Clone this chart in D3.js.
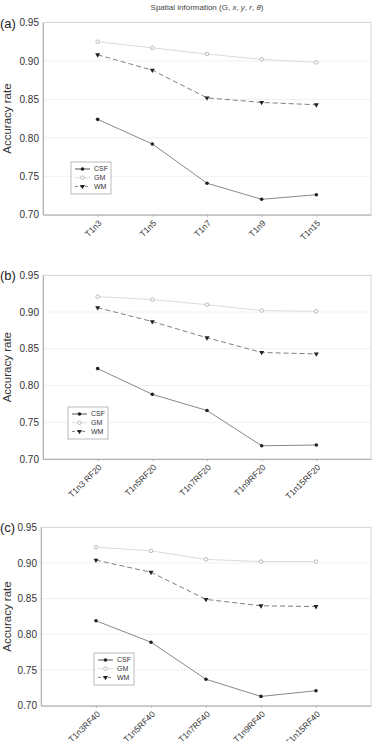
<!DOCTYPE html>
<html>
<head>
<meta charset="utf-8">
<script src="https://cdn.jsdelivr.net/npm/d3@7"></script>
<style>
  body { margin: 0; background: #fff; }
  svg { display: block; font-family: "Liberation Sans", Arial, sans-serif; }
</style>
</head>
<body>
<svg id="chart" width="373" height="741"></svg>
<script>
// data
var seriesNames = ['CSF', 'GM', 'WM'];
var yTicks = [0.70, 0.75, 0.80, 0.85, 0.90, 0.95];

var catsA = ['T1n3', 'T1n5', 'T1n7', 'T1n9', 'T1n15'];
var csfA  = [0.824, 0.792, 0.741, 0.720, 0.726];
var gmA   = [0.925, 0.917, 0.909, 0.902, 0.898];
var wmA   = [0.908, 0.888, 0.852, 0.846, 0.843];

var catsB = ['T1n3 RF20', 'T1n5RF20', 'T1n7RF20', 'T1n9RF20', 'T1n15RF20'];
var csfB  = [0.823, 0.788, 0.766, 0.718, 0.719];
var gmB   = [0.921, 0.917, 0.910, 0.902, 0.901];
var wmB   = [0.906, 0.887, 0.865, 0.845, 0.843];

var catsC = ['T1n3RF40', 'T1n5RF40', 'T1n7RF40', 'T1n9RF40', 'T1n15RF40'];
var csfC  = [0.819, 0.789, 0.737, 0.713, 0.721];
var gmC   = [0.922, 0.917, 0.905, 0.902, 0.902];
var wmC   = [0.904, 0.887, 0.849, 0.840, 0.839];

var svg = d3.select('#chart');

svg.append('text')
    .attr('x', 207).attr('y', 10)
    .attr('text-anchor', 'middle')
    .style('font-size', '8px').style('fill', '#444')
    .html('Spatial information (G, <tspan font-style="italic">x</tspan>, <tspan font-style="italic">y</tspan>, <tspan font-style="italic">r</tspan>, <tspan font-style="italic">θ</tspan>)');

var panels = [
    {tag: '(a)', cats: catsA, csf: csfA, gm: gmA, wm: wmA, left: 43, right: 371, top: 22.5, bottom: 214.7, legend: [71, 162]},
    {tag: '(b)', cats: catsB, csf: csfB, gm: gmB, wm: wmB, left: 43, right: 371, top: 275.3, bottom: 459, legend: [68, 407]},
    {tag: '(c)', cats: catsC, csf: csfC, gm: gmC, wm: wmC, left: 41, right: 371, top: 527.3, bottom: 705.7, legend: [94, 653]}
];

var styles = {
    CSF: {stroke: '#888', dash: null, width: 1},
    GM:  {stroke: '#dcdcdc', dash: null, width: 1},
    WM:  {stroke: '#808080', dash: '5,3', width: 1}
};

function drawMarker(g, name, x, y) {
    if (name === 'CSF') {
        g.append('circle').attr('cx', x).attr('cy', y).attr('r', 1.8).style('fill', '#222');
    } else if (name === 'GM') {
        g.append('circle').attr('cx', x).attr('cy', y).attr('r', 1.8)
            .style('fill', '#fff').style('stroke', '#aaa').style('stroke-width', 0.8);
    } else {
        g.append('path').attr('d', d3.symbol(d3.symbolTriangle, 11)())
            .attr('transform', 'translate(' + x + ',' + y + ') rotate(180)')
            .style('fill', '#222');
    }
}

panels.forEach(function(p) {
    var x = d3.scalePoint().domain(p.cats).range([p.left, p.right]).padding(1);
    var y = d3.scaleLinear().domain([0.70, 0.95]).range([p.bottom, p.top]);
    var g = svg.append('g');

    // grid
    g.selectAll('.grid').data(yTicks.slice(1, 5)).enter().append('line')
        .attr('x1', p.left).attr('x2', p.right)
        .attr('y1', function(d) { return y(d); }).attr('y2', function(d) { return y(d); })
        .style('stroke', '#f0f0f0').style('stroke-width', 1);

    // frame
    g.append('rect')
        .attr('x', p.left).attr('y', p.top)
        .attr('width', p.right - p.left).attr('height', p.bottom - p.top)
        .style('fill', 'none').style('stroke', '#d4d4d4').style('stroke-width', 1);

    // y axis
    var ya = g.append('g').attr('transform', 'translate(' + p.left + ',0)')
        .call(d3.axisLeft(y).tickValues(yTicks).tickFormat(d3.format('.2f')).tickSize(0).tickPadding(4));
    ya.select('.domain').style('stroke', '#b0b0b0');
    ya.selectAll('text').style('font-size', '10px').style('fill', '#333')
        .style('font-family', '"Liberation Sans", Arial, sans-serif');

    // x axis
    var xa = g.append('g').attr('transform', 'translate(0,' + p.bottom + ')')
        .call(d3.axisBottom(x).tickSize(2).tickSizeOuter(0));
    xa.select('.domain').style('stroke', '#b0b0b0');
    xa.selectAll('line').style('stroke', '#b0b0b0');
    xa.selectAll('text')
        .style('font-size', '8.5px').style('fill', '#333')
        .style('font-family', '"Liberation Sans", Arial, sans-serif')
        .attr('text-anchor', 'end')
        .attr('x', 0).attr('y', 0).attr('dy', 0)
        .attr('transform', 'translate(4,9) rotate(-45)');

    // panel tag
    g.append('text').attr('x', 0).attr('y', p.top + 5)
        .style('font-size', '13px').style('fill', '#222').text(p.tag);

    // y label
    g.append('text')
        .attr('transform', 'translate(11,' + ((p.top + p.bottom) / 2) + ') rotate(-90)')
        .attr('text-anchor', 'middle')
        .style('font-size', '11.5px').style('fill', '#333')
        .text('Accuracy rate');

    // series
    var data = {CSF: p.csf, GM: p.gm, WM: p.wm};
    seriesNames.forEach(function(name) {
        var s = styles[name];
        var vals = data[name];
        var line = d3.line()
            .x(function(d, i) { return x(p.cats[i]); })
            .y(function(d) { return y(d); });
        g.append('path').datum(vals).attr('d', line)
            .style('fill', 'none').style('stroke', s.stroke)
            .style('stroke-width', s.width)
            .style('stroke-dasharray', s.dash);
        vals.forEach(function(v, i) { drawMarker(g, name, x(p.cats[i]), y(v)); });
    });

    // legend
    var lx = p.legend[0], ly = p.legend[1];
    var lg = g.append('g').attr('transform', 'translate(' + lx + ',' + ly + ')');
    lg.append('rect').attr('width', 40).attr('height', 32)
        .style('fill', '#fff').style('stroke', '#aaa').style('stroke-width', 0.8);
    seriesNames.forEach(function(name, i) {
        var s = styles[name];
        var yy = 7 + i * 8.7;
        lg.append('line').attr('x1', 4).attr('x2', 19).attr('y1', yy).attr('y2', yy)
            .style('stroke', name === 'CSF' ? '#555' : s.stroke).style('stroke-dasharray', name === 'WM' ? '3,2' : null);
        drawMarker(lg, name, 11.5, yy);
        lg.append('text').attr('x', 23).attr('y', yy).attr('dy', '0.35em')
            .style('font-size', '7px').style('fill', '#333').text(name);
    });
});
</script>
</body>
</html>
